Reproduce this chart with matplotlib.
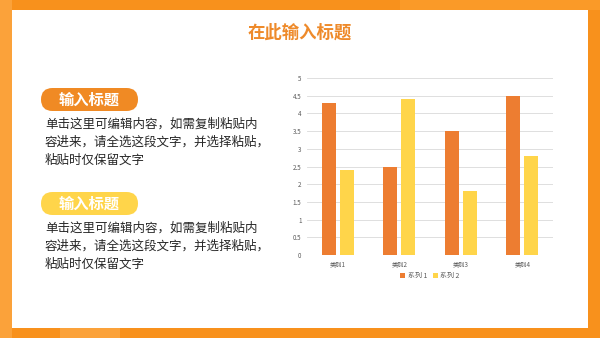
import numpy as np
import matplotlib
matplotlib.use("Agg")
import matplotlib.pyplot as plt
from matplotlib.patches import FancyBboxPatch, Rectangle

plt.rcParams['font.family'] = ['Noto Sans CJK SC', 'DejaVu Sans']

# chart data
categories = ["类别1", "类别2", "类别3", "类别4"]
series_names = ["系列 1", "系列 2"]
series1 = [4.3, 2.5, 3.5, 4.5]
series2 = [2.4, 4.4, 1.8, 2.8]
y_ticks = [0, 0.5, 1, 1.5, 2, 2.5, 3, 3.5, 4, 4.5, 5]
y_tick_labels = ["0", "0.5", "1", "1.5", "2", "2.5", "3", "3.5", "4", "4.5", "5"]

# slide text
title = "在此输入标题"
heading = "输入标题"
body_lines = ["单击这里可编辑内容，如需复制粘贴内",
              "容进来，请全选这段文字，并选择粘贴，",
              "粘贴时仅保留文字"]

ORANGE = "#ED7D31"
YELLOW = "#FFD54A"
FRAME = "#F8911C"

W, H = 600, 338
fig = plt.figure(figsize=(W / 100, H / 100), dpi=100)
fig.patch.set_facecolor(FRAME)

# background layer in pixel coordinates
bg = fig.add_axes([0, 0, 1, 1])
bg.set_xlim(0, W)
bg.set_ylim(H, 0)
bg.axis("off")

# lighter facets on the orange frame
bg.add_patch(Rectangle((0, 0), 12, 338, color="#FBA23A", lw=0))
bg.add_patch(Rectangle((400, 0), 200, 10, color="#FA9A28", lw=0))
bg.add_patch(Rectangle((60, 328), 60, 10, color="#FBA23A", lw=0))
bg.add_patch(Rectangle((12, 10), 576, 318, facecolor="white", lw=0))

bg.text(300, 33, title, ha="center", va="center", fontsize=12.5,
        fontweight="bold", color="#EE8A2A")

for top, pill_color in [(88, "#F08A24"), (192, "#FFD54A")]:
    bg.add_patch(FancyBboxPatch((41, top), 97, 23,
                                boxstyle="round,pad=0,rounding_size=11.5",
                                facecolor=pill_color, lw=0))
    bg.text(89, top + 11.5, heading, ha="center", va="center", fontsize=11,
            fontweight="bold", color="white")
    for i, line in enumerate(body_lines):
        bg.text(45, top + 36 + i * 18, line, ha="left", va="center",
                fontsize=9, color="#262626")

# column chart
ax = fig.add_axes([307 / W, (H - 255) / H, 246 / W, 177 / H])
x = np.arange(len(categories))
width = 0.23
ax.bar(x - 0.145, series1, width, color=ORANGE, label=series_names[0], zorder=3)
ax.bar(x + 0.145, series2, width, color=YELLOW, label=series_names[1], zorder=3)
ax.set_xlim(-0.5, 3.5)
ax.set_ylim(0, 5)
ax.set_yticks(y_ticks)
ax.set_yticklabels(y_tick_labels)
ax.set_xticks(x)
ax.set_xticklabels(categories)
ax.grid(axis="y", color="#D9D9D9", lw=0.6, zorder=0)
for s in ax.spines.values():
    s.set_visible(False)
ax.tick_params(length=0, labelsize=4.5, colors="#595959", pad=4)
ax.set_facecolor("none")

ax.legend(loc="center", bbox_to_anchor=(430 / W, (H - 276) / H),
          bbox_transform=fig.transFigure, ncol=2, frameon=False,
          fontsize=5, handlelength=0.7, handleheight=0.7,
          columnspacing=0.8, handletextpad=0.4, labelcolor="#595959")

fig.savefig("out.png", dpi=100, facecolor=fig.get_facecolor())
